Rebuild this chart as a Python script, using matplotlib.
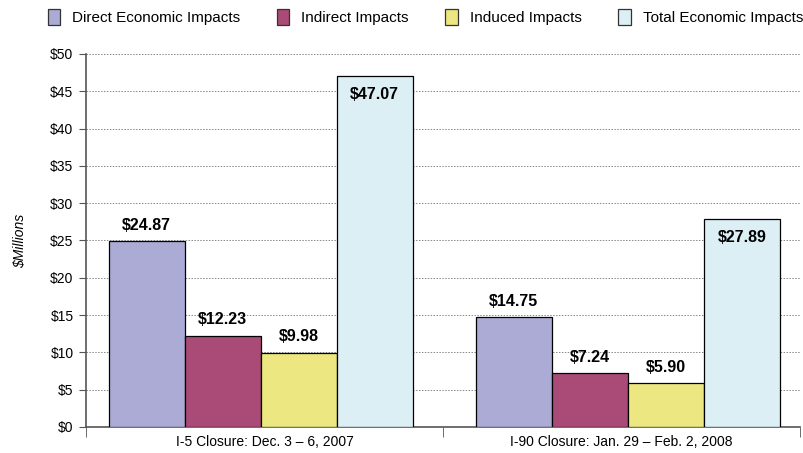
import numpy as np
import matplotlib
matplotlib.use("Agg")
import matplotlib.pyplot as plt
from matplotlib.patches import Patch

plt.rcParams['font.family'] = ['Liberation Sans', 'DejaVu Sans']

# Data
closures = ['I-5 Closure: Dec. 3 – 6, 2007', 'I-90 Closure: Jan. 29 – Feb. 2, 2008']
series = ['Direct Economic Impacts', 'Indirect Impacts', 'Induced Impacts', 'Total Economic Impacts']
direct = [24.87, 14.75]
indirect = [12.23, 7.24]
induced = [9.98, 5.90]
total = [47.07, 27.89]
colors = ['#ABABD5', '#AA4A76', '#ECE780', '#DBEFF5']
yticks = list(range(0, 55, 5))

fig = plt.figure(figsize=(8.04, 4.53), dpi=100)
ax = fig.add_axes([0.107, 0.0574, 0.888, 0.8235])

x = np.arange(len(closures))
# group centres nudged slightly as in the original layout
centres = x + np.array([-0.011, 0.018])
w = 0.213
values = [direct, indirect, induced, total]
for i, (vals, col) in enumerate(zip(values, colors)):
    pos = centres + (i - 1.5) * w
    ax.bar(pos, vals, width=w, color=col, edgecolor='black', linewidth=0.9, zorder=3)
    for p, v in zip(pos, vals):
        if i == 3:
            ax.annotate(f'${v:.2f}', (p, v), xytext=(0, -8), textcoords='offset points',
                        ha='center', va='top', fontsize=11.5, fontweight='bold')
        else:
            ax.annotate(f'${v:.2f}', (p, v), xytext=(0, 6), textcoords='offset points',
                        ha='center', va='bottom', fontsize=11.5, fontweight='bold')

ax.set_xlim(-0.5, 1.5)
ax.set_ylim(0, 50)
ax.set_yticks(yticks)
ax.set_yticklabels([f'${t}' for t in yticks], fontsize=10)
ax.yaxis.grid(True, linestyle=(0, (1.5, 1.5)), color='#888888', linewidth=0.7, zorder=0)
ax.tick_params(axis='y', direction='out', length=5, color='#555555', pad=4)

ax.set_xticks(x)
ax.set_xticklabels(closures, fontsize=10)
ax.tick_params(axis='x', which='major', length=0, pad=6)
ax.set_xticks([-0.5, 0.5, 1.5], minor=True)
ax.tick_params(axis='x', which='minor', direction='out', length=7, color='#555555')

for s in ['top', 'right']:
    ax.spines[s].set_visible(False)
for s in ['left', 'bottom']:
    ax.spines[s].set_color('#555555')
    ax.spines[s].set_linewidth(1.2)

ax.set_ylabel('$Millions', fontsize=10, style='italic')
ax.yaxis.set_label_coords(-0.083, 0.5)

handles = [Patch(facecolor=c, edgecolor='#333333', linewidth=0.9) for c in colors]
fig.legend(handles, series, loc='upper left', bbox_to_anchor=(0.042, 1.01), ncol=4,
           frameon=False, fontsize=11, handlelength=0.8, handleheight=1.2,
           handletextpad=0.8, columnspacing=2.4)

fig.savefig('out.png', dpi=100)
